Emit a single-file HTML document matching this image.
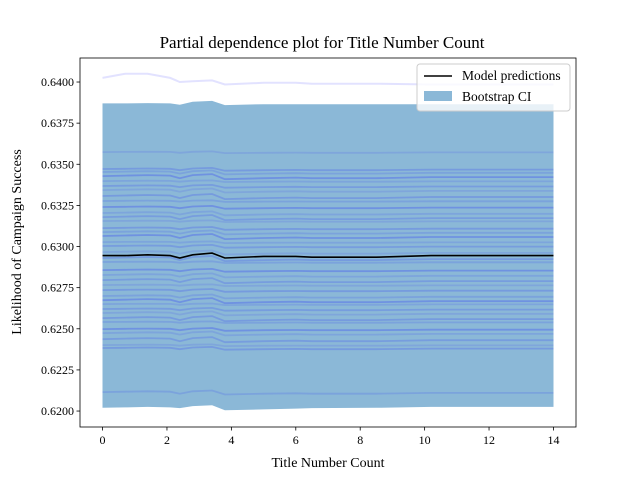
<!DOCTYPE html>
<html><head><meta charset="utf-8"><style>
body{margin:0;background:#fff}
svg text{font-family:"Liberation Serif",serif;fill:#000}
</style></head><body>
<svg id="c" width="640" height="480" viewBox="0 0 640 480" xmlns="http://www.w3.org/2000/svg">
<rect width="640" height="480" fill="#fff"/>
<g id="plot"></g>
<text x="322" y="48" font-size="17" text-anchor="middle">Partial dependence plot for Title Number Count</text>
<text x="328" y="467" font-size="14" text-anchor="middle">Title Number Count</text>
<text transform="translate(21,242) rotate(-90)" font-size="14" text-anchor="middle">Likelihood of Campaign Success</text>
</svg>
<script>
const xs=[0,0.7,1.4,2.1,2.4,2.8,3.4,3.8,5,6,6.5,8.5,10.2,14];
const model=[0.62945,0.62945,0.62950,0.62945,0.62930,0.62950,0.62960,0.62930,0.62940,0.62940,0.62935,0.62935,0.62945,0.62945];
const ciUpper=[0.63870,0.63870,0.63872,0.63870,0.63862,0.63880,0.63885,0.63860,0.63865,0.63865,0.63865,0.63865,0.63865,0.63865];
const ciLower=[0.62020,0.62022,0.62025,0.62022,0.62018,0.62030,0.62035,0.62005,0.62010,0.62015,0.62018,0.62020,0.62025,0.62025];
const outlier=[0.64025,0.64050,0.64050,0.64025,0.64000,0.64005,0.64010,0.63985,0.63995,0.63995,0.63990,0.63990,0.63985,0.63985];
const iceBases=[0.63574,0.63471,0.63453,0.63428,0.63398,0.63368,0.63343,0.63307,0.63277,0.63240,0.63204,0.63179,0.63155,0.63112,0.63088,0.63064,0.63027,0.63003,0.62966,0.62930,0.62906,0.62857,0.62827,0.62796,0.62766,0.62735,0.62699,0.62674,0.62650,0.62620,0.62596,0.62565,0.62541,0.62498,0.62474,0.62437,0.62401,0.62383,0.62115];
const iceShape=[0,0.00002,0.00004,0.00002,-0.00008,0.00004,0.00008,-0.00012,-0.00008,-0.00006,-0.00008,-0.00008,-0.00004,-0.00004];
const xTicks=[0,2,4,6,8,10,12,14];
const yTicks=[0.6200,0.6225,0.6250,0.6275,0.6300,0.6325,0.6350,0.6375,0.6400];
const L=80,R=576,T=58,B=427,xmin=-0.7,xmax=14.7,ymin=0.61903,ymax=0.64146;
const X=v=>L+(v-xmin)/(xmax-xmin)*(R-L);
const Y=v=>B-(v-ymin)/(ymax-ymin)*(B-T);
const NS="http://www.w3.org/2000/svg";
const g=document.getElementById('plot');
function mk(t,a){const e=document.createElementNS(NS,t);for(const k in a)e.setAttribute(k,a[k]);g.appendChild(e);return e;}
function pts(arr){return xs.map((x,i)=>X(x).toFixed(1)+','+Y(arr[i]).toFixed(1)).join(' ');}
let band=mk('polygon',{points:pts(ciUpper)+' '+xs.map((x,i)=>[x,ciLower[i]]).reverse().map(p=>X(p[0]).toFixed(1)+','+Y(p[1]).toFixed(1)).join(' '),fill:'#8bb8d7'});


let o=mk('polyline',{points:pts(outlier),fill:'none',stroke:'rgba(110,110,255,0.2)','stroke-width':2});


const ops=[0.18,0.3,0.22,0.4,0.2,0.28];
iceBases.forEach((b,j)=>{
  const arr=iceShape.map(d=>b+d*(0.5+0.35*(j%4)));
  const l=mk('polyline',{points:pts(arr),fill:'none',stroke:'rgba(70,90,240,'+ops[j%6]+')','stroke-width':1.8});
  
  
});
let m=mk('polyline',{points:pts(model),fill:'none',stroke:'#000','stroke-width':1.6});


let fr=mk('rect',{x:L,y:T,width:R-L,height:B-T,fill:'none',stroke:'#000','stroke-width':0.8});


xTicks.forEach(t=>{
  mk('line',{x1:X(t),x2:X(t),y1:B,y2:B+3.5,stroke:'#000','stroke-width':0.8});
  const tx=mk('text',{x:X(t),y:B+17,'font-size':12,'text-anchor':'middle'});tx.textContent=t;
  
  
});
yTicks.forEach(t=>{
  mk('line',{x1:L-3.5,x2:L,y1:Y(t),y2:Y(t),stroke:'#000','stroke-width':0.8});
  const tx=mk('text',{x:L-6,y:Y(t)+4,'font-size':12,'text-anchor':'end'});tx.textContent=t.toFixed(4);
  
  
});
const lg=mk('g',{});


const lr=document.createElementNS(NS,'rect');
[['x',417],['y',64],['width',153],['height',47],['rx',3],['fill','#fff'],['fill-opacity',0.8],['stroke','#ccc']].forEach(a=>lr.setAttribute(a[0],a[1]));
lg.appendChild(lr);
const ll=document.createElementNS(NS,'line');
[['x1',424],['x2',452],['y1',76],['y2',76],['stroke','#000'],['stroke-width',1.6]].forEach(a=>ll.setAttribute(a[0],a[1]));
lg.appendChild(ll);
const lb=document.createElementNS(NS,'rect');
[['x',424],['y',91],['width',28],['height',10],['fill','#8bb8d7']].forEach(a=>lb.setAttribute(a[0],a[1]));
lg.appendChild(lb);
[['Model predictions',80,'legend-entry-model'],['Bootstrap CI',101,'legend-entry-ci']].forEach(e=>{
  const t=document.createElementNS(NS,'text');t.setAttribute('x',462);t.setAttribute('y',e[1]);t.setAttribute('font-size',13.5);t.textContent=e[0];
  
  
  lg.appendChild(t);
});
</script>
</body></html>
